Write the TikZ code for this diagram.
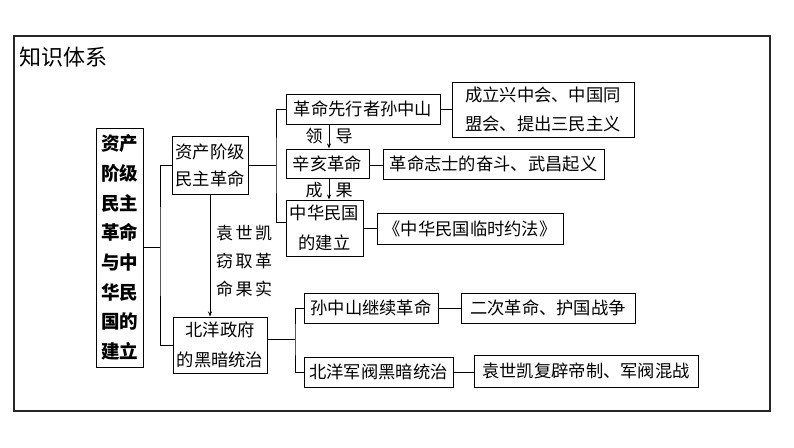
\documentclass[tikz,border=0pt]{standalone}
\usepackage{fontspec}
\setmainfont{Noto Sans CJK SC}
\newfontfamily\cjk{Noto Sans CJK SC}
\usetikzlibrary{arrows.meta,calc}
\begin{document}
\begin{tikzpicture}[x=1pt,y=-1pt,
  box/.style={draw=black,line width=1pt,rectangle,inner sep=0pt,align=center,
    font=\cjk\fontsize{17.3}{29.5}\selectfont},
  conn/.style={draw=black,line width=1pt},
  arr/.style={conn,-{Stealth[length=5pt,width=4pt]}},
  lab/.style={inner sep=0pt,font=\cjk\fontsize{17}{28}\selectfont,align=left}]
\useasboundingbox (0,0) rectangle (794,447);
\draw[line width=1.2pt,draw=black!85] (14,36) rectangle (770,411);
\node[anchor=west,inner sep=0pt,font=\cjk\fontsize{22}{24}\selectfont] (title) at (19,57) {知识体系};
% nodes
\node[box,minimum width=47,minimum height=239,font=\cjk\bfseries\fontsize{18.5}{29.7}\selectfont] (L) at (119.5,247.5) {资产\\阶级\\民主\\革命\\与中\\华民\\国的\\建立};
\node[box,minimum width=76,minimum height=58,font=\cjk\fontsize{17.3}{27}\selectfont] (A) at (210,165) {资产阶级\\民主革命};
\node[box,minimum width=94,minimum height=56] (B) at (220,345) {北洋政府\\的黑暗统治};
\node[box,minimum width=154,minimum height=30] (C1) at (363,109) {革命先行者孙中山};
\node[box,minimum width=182,minimum height=55] (D1) at (543,109.5) {成立兴中会、中国同\\盟会、提出三民主义};
\node[box,minimum width=83,minimum height=29] (C2) at (327.5,163.5) {辛亥革命};
\node[box,minimum width=221,minimum height=30] (D2) at (493.5,164) {革命志士的奋斗、武昌起义};
\node[box,minimum width=77,minimum height=56] (C3) at (324.5,228) {中华民国\\的建立};
\node[box,minimum width=186,minimum height=31] (D3) at (470,228.5) {《中华民国临时约法》};
\node[box,minimum width=134,minimum height=30] (E1) at (371,308) {孙中山继续革命};
\node[box,minimum width=174,minimum height=30] (F1) at (548,308) {二次革命、护国战争};
\node[box,minimum width=149,minimum height=30] (E2) at (378.5,372) {北洋军阀黑暗统治};
\node[box,minimum width=224,minimum height=32] (F2) at (586,371) {袁世凯复辟帝制、军阀混战};
% labels
\node[lab] (l1) at (314,136) {领};
\node[lab] (l2) at (344,136) {导};
\node[lab] (l3) at (314,190) {成};
\node[lab] (l4) at (344,190) {果};
\node[lab,anchor=north west] (yl) at (216,225) {袁\hspace{2.5pt}世\hspace{2.5pt}凯\\窃\hspace{2.5pt}取\hspace{2.5pt}革\\命\hspace{2.5pt}果\hspace{2.5pt}实};
% brackets
\coordinate (b1) at (160,247.5);
\draw[conn] (L.east) -- (b1);
\draw[conn] (A.west) -| (b1) |- (B.west);
\coordinate (b2) at (276,165);
\draw[conn] (A.east) -- (b2);
\draw[conn] (C1.west) -| (b2) |- ([yshift=6pt]C3.west);
\coordinate (b3) at (295,339);
\draw[conn] ([yshift=6pt]B.east) -- (b3);
\draw[conn] (E1.west) -| (b3) |- (E2.west);
% side connectors
\draw[conn] (C1.east) -- (C1.east -| D1.west);
\draw[conn] ([yshift=-2pt]C2.east) -- ([yshift=-2pt]C2.east -| D2.west);
\draw[conn] (C3.east) -- (C3.east -| D3.west);
\draw[conn] (E1.east) -- (E1.east -| F1.west);
\draw[conn] (E2.east) -- (E2.east -| F2.west);
% arrows
\draw[arr] (C1.south -| 329,0) -- (C2.north -| 329,0);
\draw[arr] (C2.south -| 329,0) -- (C3.north -| 329,0);
\draw[arr] (A.south) -- (A.south |- B.north);
\end{tikzpicture}
\end{document}
